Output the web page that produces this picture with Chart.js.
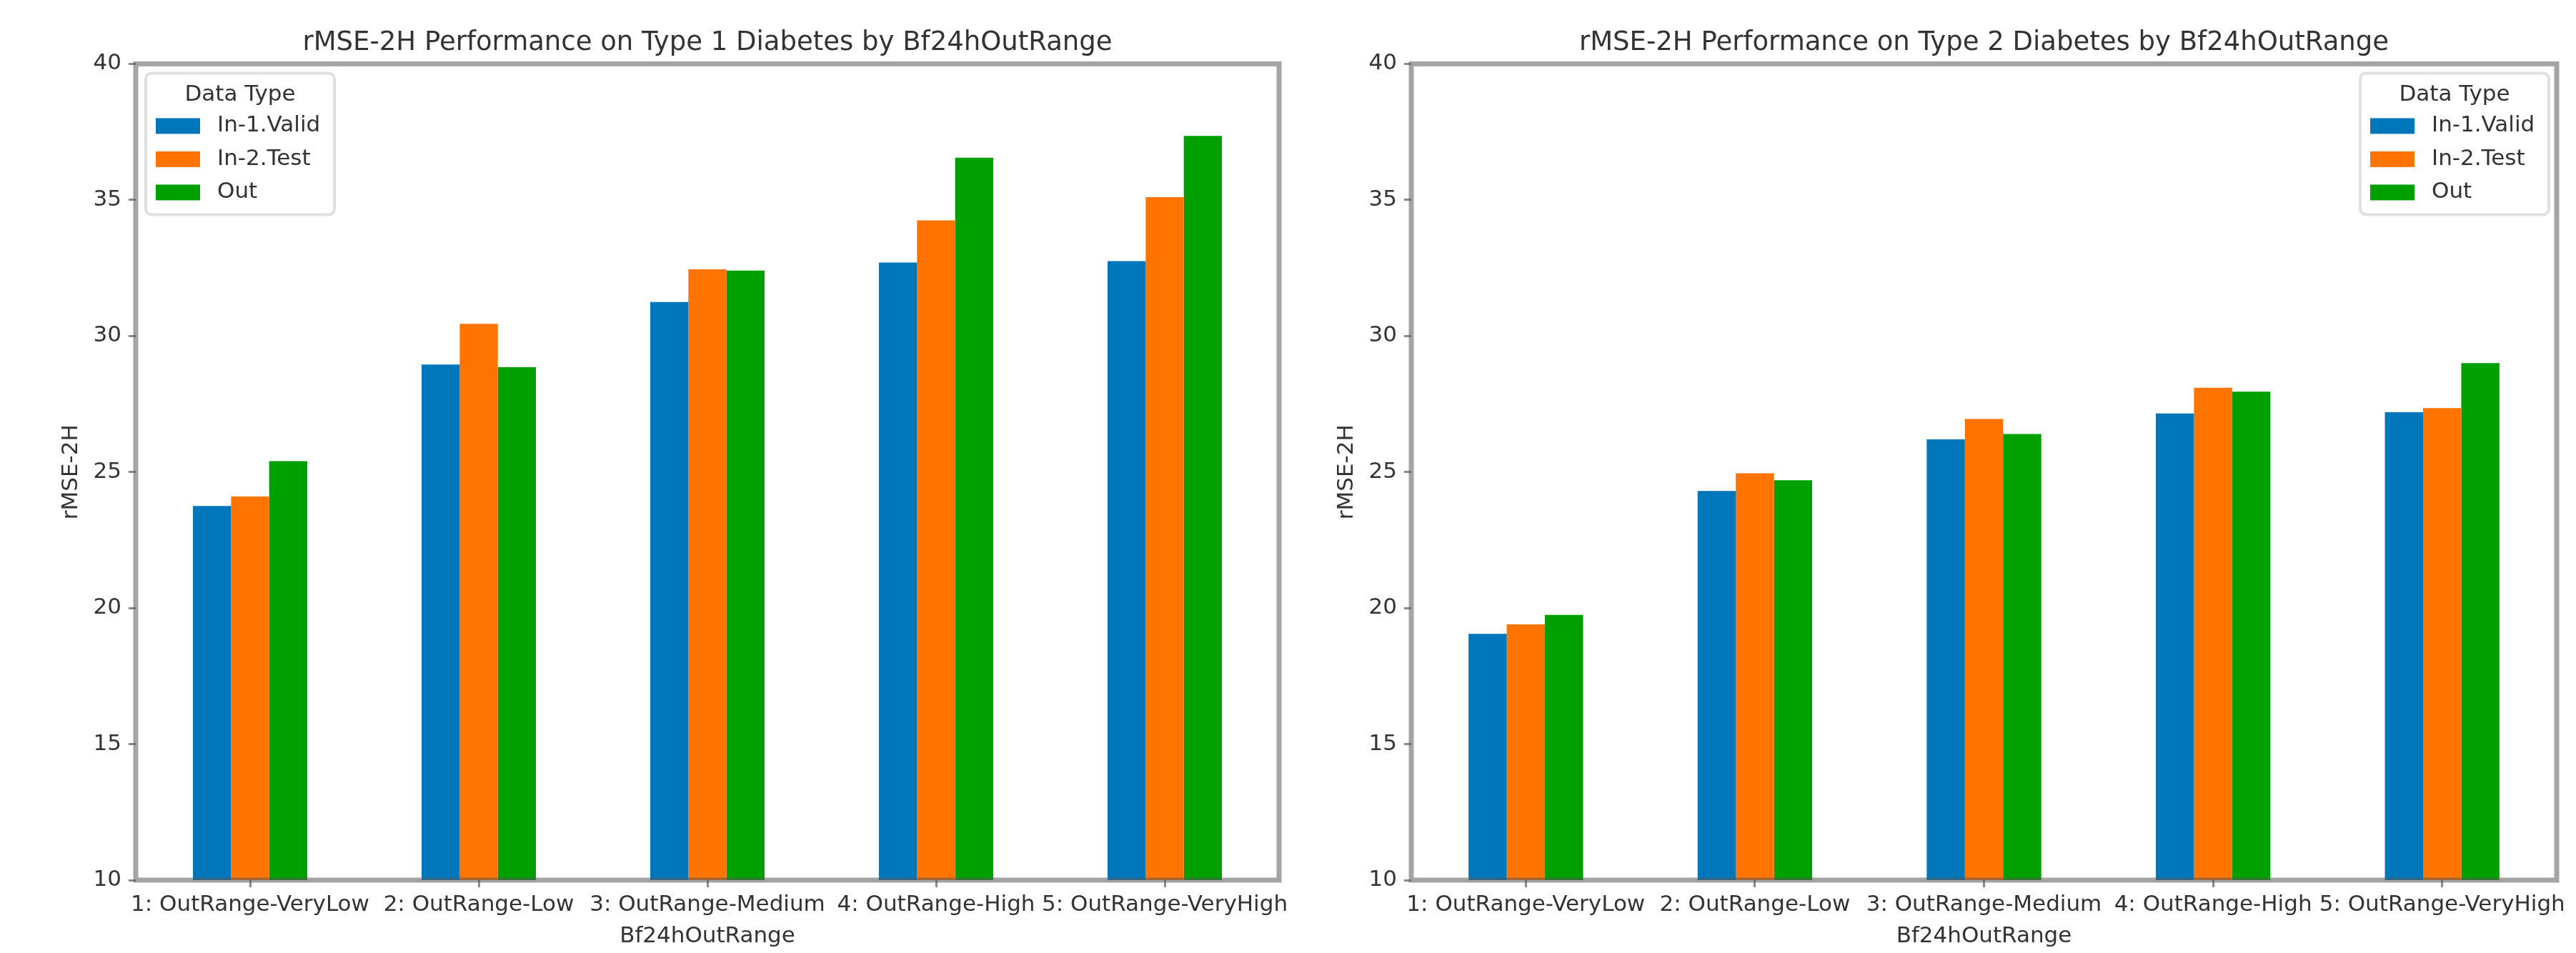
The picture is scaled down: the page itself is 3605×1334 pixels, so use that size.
<!DOCTYPE html>
<html>
<head>
<meta charset="utf-8">
<title>rMSE-2H by Bf24hOutRange</title>
<script src="https://cdn.jsdelivr.net/npm/chart.js@4.4.1/dist/chart.umd.min.js"></script>
<style>
  html, body { margin: 0; padding: 0; background: #fff; overflow: hidden; }
  .panel { position: absolute; top: 0; height: 1334px; }
</style>
</head>
<body>
<div class="panel" style="left:0;width:1800px"><canvas id="chart-t1" width="1800" height="1334"></canvas></div>
<div class="panel" style="left:1800px;width:1805px"><canvas id="chart-t2" width="1805" height="1334"></canvas></div>
<script>
const categories = ['1: OutRange-VeryLow', '2: OutRange-Low', '3: OutRange-Medium', '4: OutRange-High', '5: OutRange-VeryHigh'];
const seriesNames = ['In-1.Valid', 'In-2.Test', 'Out'];
const seriesColors = ['#0077ba', '#ff7400', '#00a000'];

// Type 1 diabetes
const t1Valid = [23.75, 28.95, 31.25, 32.7, 32.75];
const t1Test = [24.1, 30.45, 32.45, 34.25, 35.1];
const t1Out = [25.4, 28.85, 32.4, 36.55, 37.35];

// Type 2 diabetes
const t2Valid = [19.05, 24.3, 26.2, 27.15, 27.2];
const t2Test = [19.4, 24.95, 26.95, 28.1, 27.35];
const t2Out = [19.75, 24.7, 26.4, 27.95, 29.0];

const yMin = 10;
const yMax = 40;
const yStep = 5;

const FONT = "'DejaVu Sans', sans-serif";
const TEXT = '#333';

// box around the plot, drawn over the bars like the original
const frame = {
    id: 'frame',
    afterDatasetsDraw(chart) {
        const { ctx, chartArea } = chart;
        ctx.save();
        ctx.strokeStyle = 'rgba(90,90,90,0.55)';
        ctx.lineWidth = 7;
        ctx.strokeRect(chartArea.left, chartArea.top, chartArea.right - chartArea.left, chartArea.bottom - chartArea.top);
        ctx.restore();
    }
};

// matplotlib style legend with a title
const legendBox = {
    id: 'legendBox',
    afterDraw(chart, args, opts) {
        const { ctx, chartArea } = chart;
        const w = 264, h = 198;
        const x = opts.side === 'left' ? chartArea.left + 14 : chartArea.right - 11 - w;
        const y = chartArea.top + 13;
        ctx.save();
        ctx.beginPath();
        ctx.roundRect(x, y, w, h, 8);
        ctx.fillStyle = 'rgba(255,255,255,0.85)';
        ctx.fill();
        ctx.strokeStyle = '#e0e0e0';
        ctx.lineWidth = 4;
        ctx.stroke();

        ctx.font = '31px ' + FONT;
        ctx.fillStyle = TEXT;
        ctx.textBaseline = 'middle';
        ctx.textAlign = 'center';
        ctx.fillText(opts.title, x + w / 2, y + 31);

        ctx.textAlign = 'left';
        chart.data.datasets.forEach((ds, i) => {
            const cy = y + 74 + 46.5 * i;
            ctx.fillStyle = ds.backgroundColor;
            ctx.fillRect(x + 14, cy - 11, 62, 22);
            ctx.fillStyle = TEXT;
            ctx.fillText(ds.label, x + 100, cy);
        });
        ctx.restore();
    }
};

const makeChart = (canvasId, title, values, layout) => {
    const ctx = document.getElementById(canvasId).getContext('2d');
    return new Chart(ctx, {
        type: 'bar',
        data: {
            labels: categories,
            datasets: seriesNames.map((name, i) => ({
                label: name,
                data: values[i],
                backgroundColor: seriesColors[i],
                borderWidth: 0,
                categoryPercentage: 0.5,
                barPercentage: 1.0
            }))
        },
        options: {
            responsive: false,
            animation: false,
            layout: { padding: { left: 0, right: layout.padRight, top: 0, bottom: 0 } },
            plugins: {
                legend: { display: false },
                tooltip: { enabled: false },
                title: {
                    display: true,
                    text: title,
                    fullSize: false,
                    color: TEXT,
                    font: { family: FONT, size: 37, weight: 'normal' },
                    padding: { top: 38, bottom: 7 }
                },
                legendBox: { side: layout.legendSide, title: 'Data Type' }
            },
            scales: {
                x: {
                    offset: true,
                    border: { display: false },
                    grid: { offset: false, drawOnChartArea: false, drawTicks: true, tickLength: 10, tickWidth: 3, tickColor: '#8a8a8a' },
                    ticks: { color: TEXT, font: { family: FONT, size: 31 }, padding: 6, maxRotation: 0, minRotation: 0, autoSkip: false },
                    title: { display: true, text: 'Bf24hOutRange', color: TEXT, font: { family: FONT, size: 31 }, padding: { top: 0, bottom: 4 } },
                    afterFit(scale) {
                        scale.height = 102;
                        scale.paddingLeft = 0;
                        scale.paddingRight = 0;
                    }
                },
                y: {
                    min: yMin,
                    max: yMax,
                    border: { display: false },
                    grid: { drawOnChartArea: false, drawTicks: true, tickLength: 10, tickWidth: 3, tickColor: '#8a8a8a' },
                    ticks: { stepSize: yStep, color: TEXT, font: { family: FONT, size: 31 }, padding: 10 },
                    title: { display: true, text: 'rMSE-2H', color: TEXT, font: { family: FONT, size: 31 }, padding: { top: layout.axisLeft - 90 - 18.6, bottom: 0 } },
                    afterFit(scale) {
                        scale.width = layout.axisLeft;
                        scale.paddingTop = 0;
                        scale.paddingBottom = 0;
                    }
                }
            }
        },
        plugins: [frame, legendBox]
    });
};

const app = {
    charts: [],
    initialize() {
        app.charts.push(makeChart('chart-t1', 'rMSE-2H Performance on Type 1 Diabetes by Bf24hOutRange',
            [t1Valid, t1Test, t1Out], { axisLeft: 190, padRight: 10, legendSide: 'left' }));
        app.charts.push(makeChart('chart-t2', 'rMSE-2H Performance on Type 2 Diabetes by Bf24hOutRange',
            [t2Valid, t2Test, t2Out], { axisLeft: 175, padRight: 27, legendSide: 'right' }));
    }
};
app.initialize();
</script>
</body>
</html>
